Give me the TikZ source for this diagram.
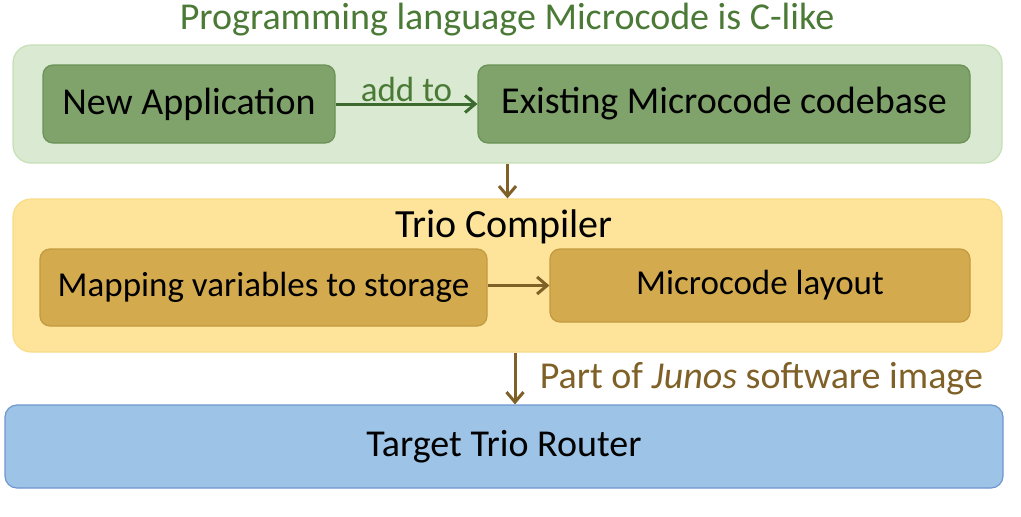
\documentclass[tikz,border=0pt]{standalone}
\usepackage{fontspec}
\setmainfont{Carlito}
\usetikzlibrary{arrows.meta}
\definecolor{titlegreen}{HTML}{4A7A36}
\definecolor{outergreen}{HTML}{DAEAD2}
\definecolor{outergreenb}{HTML}{C6DFB6}
\definecolor{innergreen}{HTML}{80A36B}
\definecolor{innergreenb}{HTML}{6B9156}
\definecolor{arrowgreen}{HTML}{3D6A2E}
\definecolor{outergold}{HTML}{FDE49A}
\definecolor{outergoldb}{HTML}{F8DC88}
\definecolor{innergold}{HTML}{D4AA4F}
\definecolor{innergoldb}{HTML}{C29A40}
\definecolor{brownc}{HTML}{7F6128}
\definecolor{bluefill}{HTML}{9DC3E6}
\definecolor{blueb}{HTML}{6F97CF}
\tikzset{
  box/.style={draw, rectangle, line width=1.2pt, inner sep=0pt, align=center},
  outerbox/.style={box, rounded corners=18pt},
  innerbox/.style={box, rounded corners=10pt, font=\fontsize{38}{44}\selectfont},
  conn/.style={line width=3pt, -{Straight Barb[length=10pt, width=17pt, line width=3pt]}},
}
\begin{document}
\begin{tikzpicture}[x=1pt, y=-1pt]
\useasboundingbox (0,0) rectangle (1021,517);
\node[text=titlegreen, font=\fontsize{38}{44}\selectfont] (title) at (507,20) {Programming language Microcode is C-like};
\node[outerbox, fill=outergreen, draw=outergreenb, minimum width=989pt, minimum height=118pt] (green) at (507.5,104) {};
\node[innerbox, fill=innergreen, draw=innergreenb, minimum width=292pt, minimum height=78pt] (newapp) at (189,104) {New Application};
\node[innerbox, fill=innergreen, draw=innergreenb, minimum width=492pt, minimum height=78pt] (exist) at (724,104) {Existing Microcode codebase};
\draw[conn, draw=arrowgreen] (newapp) -- node[above=-3pt, text=titlegreen, font=\fontsize{35}{40}\selectfont] (addto) {add to} (exist);
\node[outerbox, fill=outergold, draw=outergoldb, minimum width=989pt, minimum height=153pt] (gold) at (507.5,275.5) {};
\node[font=\fontsize{40}{46}\selectfont] (trio) at (504,227) {Trio Compiler};
\node[innerbox, fill=innergold, draw=innergoldb, minimum width=447pt, minimum height=77pt, font=\fontsize{35}{40}\selectfont] (mapping) at (263.5,287.5) {Mapping variables to storage};
\node[innerbox, fill=innergold, draw=innergoldb, minimum width=420pt, minimum height=73pt, font=\fontsize{35}{40}\selectfont] (layout) at (760,285.5) {\raisebox{-2pt}{Microcode layout}};
\draw[conn, draw=brownc] (mapping.east |- layout) -- (layout);
\draw[conn, draw=brownc] (green) -- (gold);
\node[outerbox, rounded corners=12pt, fill=bluefill, draw=blueb, minimum width=998pt, minimum height=83pt, font=\fontsize{38}{44}\selectfont] (blue) at (504,446.5) {Target Trio Router};
\coordinate (c1) at (515,0);
\draw[conn, draw=brownc] (gold.south -| c1) -- node[right=20pt, text=brownc, font=\fontsize{38}{44}\selectfont] (part) {Part of \textit{Junos} software image} (blue.north -| c1);
\end{tikzpicture}
\end{document}
